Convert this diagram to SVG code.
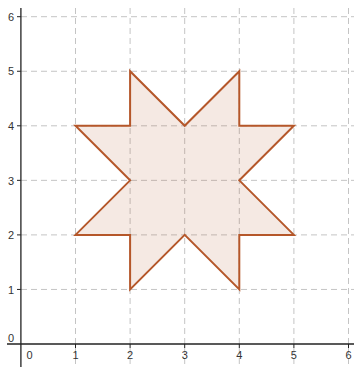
<svg xmlns="http://www.w3.org/2000/svg" width="354" height="367" viewBox="0 0 354 367">
<style>
.grid{stroke:#c4c4c4;stroke-width:1;stroke-dasharray:6,4;fill:none}
.axis{stroke:#222;stroke-width:1.3;fill:none}
.tick{stroke:#222;stroke-width:1}
.lbl{font-family:"Liberation Sans",Arial,sans-serif;font-size:11px;fill:#333}
.star{fill:#b5572a;fill-opacity:0.13;stroke:#b5572a;stroke-width:2;stroke-linejoin:miter}
</style>
<rect width="354" height="367" fill="#fff"/>
<g id="grid">
<line class="grid" x1="75.5" y1="8" x2="75.5" y2="367"/>
<line class="grid" x1="130.1" y1="8" x2="130.1" y2="367"/>
<line class="grid" x1="184.7" y1="8" x2="184.7" y2="367"/>
<line class="grid" x1="239.3" y1="8" x2="239.3" y2="367"/>
<line class="grid" x1="293.9" y1="8" x2="293.9" y2="367"/>
<line class="grid" x1="348.5" y1="8" x2="348.5" y2="367"/>
<line class="grid" x1="21" y1="289.45" x2="354" y2="289.45"/>
<line class="grid" x1="21" y1="234.9" x2="354" y2="234.9"/>
<line class="grid" x1="21" y1="180.35" x2="354" y2="180.35"/>
<line class="grid" x1="21" y1="125.8" x2="354" y2="125.8"/>
<line class="grid" x1="21" y1="71.25" x2="354" y2="71.25"/>
<line class="grid" x1="21" y1="16.7" x2="354" y2="16.7"/>
</g>
<g id="star">
<polygon class="star" points="75.5,125.8 130.1,125.8 130.1,71.25 184.7,125.8 239.3,71.25 239.3,125.8 293.9,125.8 239.3,180.35 293.9,234.9 239.3,234.9 239.3,289.45 184.7,234.9 130.1,289.45 130.1,234.9 75.5,234.9 130.1,180.35"/>
</g>
<g id="axes">
<line class="axis" x1="20.9" y1="8" x2="20.9" y2="367"/>
<line class="axis" x1="7" y1="344" x2="354" y2="344"/>
<g class="tick">
<line x1="75.5" y1="344" x2="75.5" y2="348"/>
<line x1="130.1" y1="344" x2="130.1" y2="348"/>
<line x1="184.7" y1="344" x2="184.7" y2="348"/>
<line x1="239.3" y1="344" x2="239.3" y2="348"/>
<line x1="293.9" y1="344" x2="293.9" y2="348"/>
<line x1="348.5" y1="344" x2="348.5" y2="348"/>
<line x1="17" y1="289.45" x2="20.9" y2="289.45"/>
<line x1="17" y1="234.9" x2="20.9" y2="234.9"/>
<line x1="17" y1="180.35" x2="20.9" y2="180.35"/>
<line x1="17" y1="125.8" x2="20.9" y2="125.8"/>
<line x1="17" y1="71.25" x2="20.9" y2="71.25"/>
<line x1="17" y1="16.7" x2="20.9" y2="16.7"/>
</g>
</g>
<g id="labels" class="lbl">
<text x="29.5" y="359" text-anchor="middle">0</text>
<text x="75.5" y="359" text-anchor="middle">1</text>
<text x="130.1" y="359" text-anchor="middle">2</text>
<text x="184.7" y="359" text-anchor="middle">3</text>
<text x="239.3" y="359" text-anchor="middle">4</text>
<text x="293.9" y="359" text-anchor="middle">5</text>
<text x="348.5" y="359" text-anchor="middle">6</text>
<text x="11" y="342" text-anchor="middle">0</text>
<text x="11" y="293.5" text-anchor="middle">1</text>
<text x="11" y="239" text-anchor="middle">2</text>
<text x="11" y="184.5" text-anchor="middle">3</text>
<text x="11" y="130" text-anchor="middle">4</text>
<text x="11" y="75.3" text-anchor="middle">5</text>
<text x="11" y="20.8" text-anchor="middle">6</text>
</g>
</svg>
